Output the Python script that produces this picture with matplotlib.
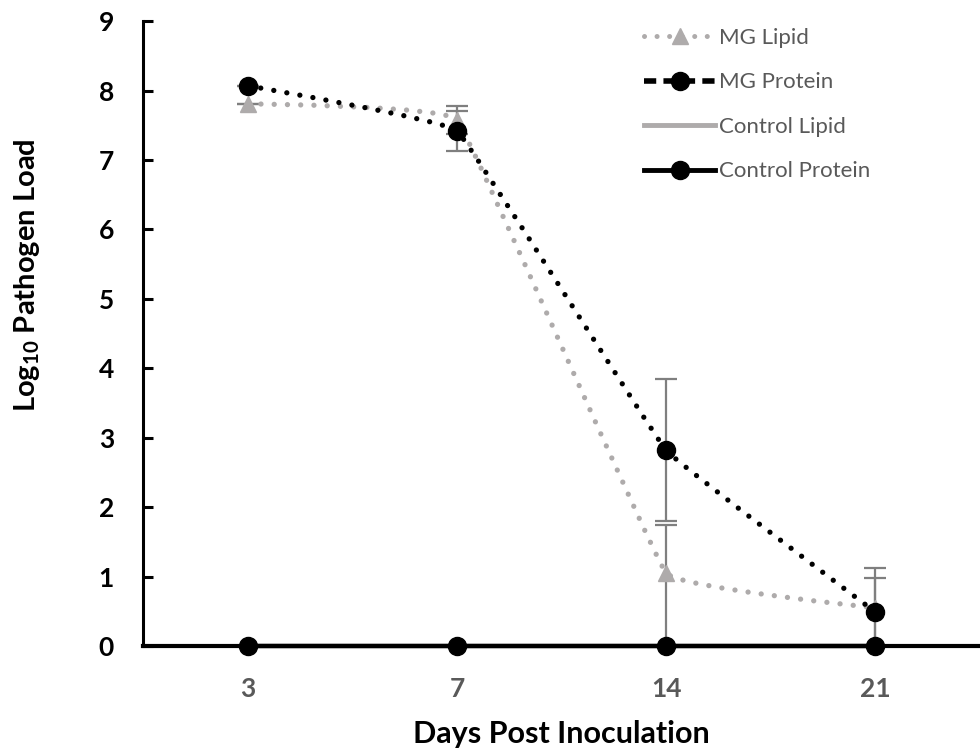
import numpy as np
import matplotlib
matplotlib.use("Agg")
import matplotlib.pyplot as plt
from matplotlib.path import Path
from matplotlib.patches import PathPatch
from matplotlib.lines import Line2D

plt.rcParams['mathtext.fontset'] = 'custom'
plt.rcParams['mathtext.rm'] = 'Lato:bold'
plt.rcParams['mathtext.default'] = 'rm'

days = ['3', '7', '14', '21']
mg_lipid = [7.81, 7.58, 1.05, 0.55]
mg_lipid_err_lo = [0.0, 0.2, 1.05, 0.55]
mg_lipid_err_hi = [0.0, 0.2, 0.70, 0.43]
mg_protein = [8.07, 7.42, 2.82, 0.49]
mg_protein_err = [0.0, 0.29, 1.02, 0.63]
ctrl_lipid = [0, 0, 0, 0]
ctrl_protein = [0, 0, 0, 0]

lipid_c = '#AEABAB'
err_c = '#7F7F7F'
SMOOTH = 0.03


def smooth(xs, ys):
    # excel style smoothed line as bezier segments
    p = np.column_stack([xs, ys]).astype(float)
    verts = [p[0]]
    codes = [Path.MOVETO]
    for k in range(len(p) - 1):
        a = p[k - 1] if k > 0 else p[k]
        d = p[k + 2] if k + 2 < len(p) else p[k + 1]
        verts += [p[k] + (p[k + 1] - a) * SMOOTH, p[k + 1] - (d - p[k]) * SMOOTH, p[k + 1]]
        codes += [Path.CURVE4] * 3
    return Path(verts, codes)


x = np.arange(len(days))
fig, ax = plt.subplots(figsize=(9.8, 7.53), dpi=100)
fig.subplots_adjust(left=0.146, right=1.0, bottom=0.142, top=0.972)

# controls
ax.plot(x, ctrl_lipid, color=lipid_c, lw=3, zorder=3)
ax.plot(x, ctrl_protein, color='black', lw=3.2, marker='o', ms=13, zorder=4, clip_on=False)

# error bars
ax.errorbar(x, mg_lipid, yerr=[mg_lipid_err_lo, mg_lipid_err_hi], fmt='none',
            ecolor=err_c, elinewidth=1.6, capsize=8, capthick=1.6, zorder=2)
ax.errorbar(x, mg_protein, yerr=mg_protein_err, fmt='none',
            ecolor=err_c, elinewidth=1.6, capsize=8, capthick=1.6, zorder=2)

dots = (0, (0.01, 2.5))
ax.add_patch(PathPatch(smooth(x, mg_lipid), fill=False, edgecolor=lipid_c, lw=3.8,
                       linestyle=dots, capstyle='round', zorder=5))
ax.plot(x, mg_lipid, ls='none', marker='^', ms=12, color=lipid_c, zorder=6)
ax.add_patch(PathPatch(smooth(x, mg_protein), fill=False, edgecolor='black', lw=3.8,
                       linestyle=dots, capstyle='round', zorder=7))
ax.plot(x, mg_protein, ls='none', marker='o', ms=13, color='black', zorder=8)

ax.set_xlim(-0.5, 3.5)
ax.set_ylim(0, 9)
ax.set_xticks(x)
ax.set_xticklabels(days)
ax.set_yticks(range(10))
for s in ['top', 'right']:
    ax.spines[s].set_visible(False)
ax.spines['left'].set_linewidth(2.2)
ax.spines['bottom'].set_linewidth(3)
ax.tick_params(axis='y', direction='in', length=7, width=2.2, pad=21)
ax.tick_params(axis='x', length=0, pad=22, colors='#595959')
for t in ax.get_yticklabels() + ax.get_xticklabels():
    t.set_fontfamily('Lato')
    t.set_fontweight('bold')
    t.set_fontsize(19)
for t in ax.get_yticklabels():
    t.set_color('black')

ax.set_xlabel('Days Post Inoculation', fontsize=22, fontweight='bold', family='Lato', labelpad=14)
ax.set_ylabel('Log$_{10}$ Pathogen Load', fontsize=21, fontweight='bold', family='Lato')
ax.yaxis.set_label_coords(-0.121, 0.594)

handles = [
    Line2D([], [], color=lipid_c, lw=3.6, linestyle=dots, dash_capstyle='round', marker='^', ms=12),
    Line2D([], [], color='black', lw=4, linestyle=(0, (2.2, 1.3)), marker='o', ms=13),
    Line2D([], [], color=lipid_c, lw=3.5),
    Line2D([], [], color='black', lw=3.5, marker='o', ms=13),
]
labels = ['MG Lipid', 'MG Protein', 'Control Lipid', 'Control Protein']
leg = ax.legend(handles, labels, loc='upper left', bbox_to_anchor=(0.575, 1.021),
                frameon=False, handlelength=3.2, handletextpad=0.15, labelspacing=1.1,
                prop={'family': 'Lato', 'size': 16})
for t in leg.get_texts():
    t.set_color('#595959')

fig.savefig('out.png', dpi=100)
